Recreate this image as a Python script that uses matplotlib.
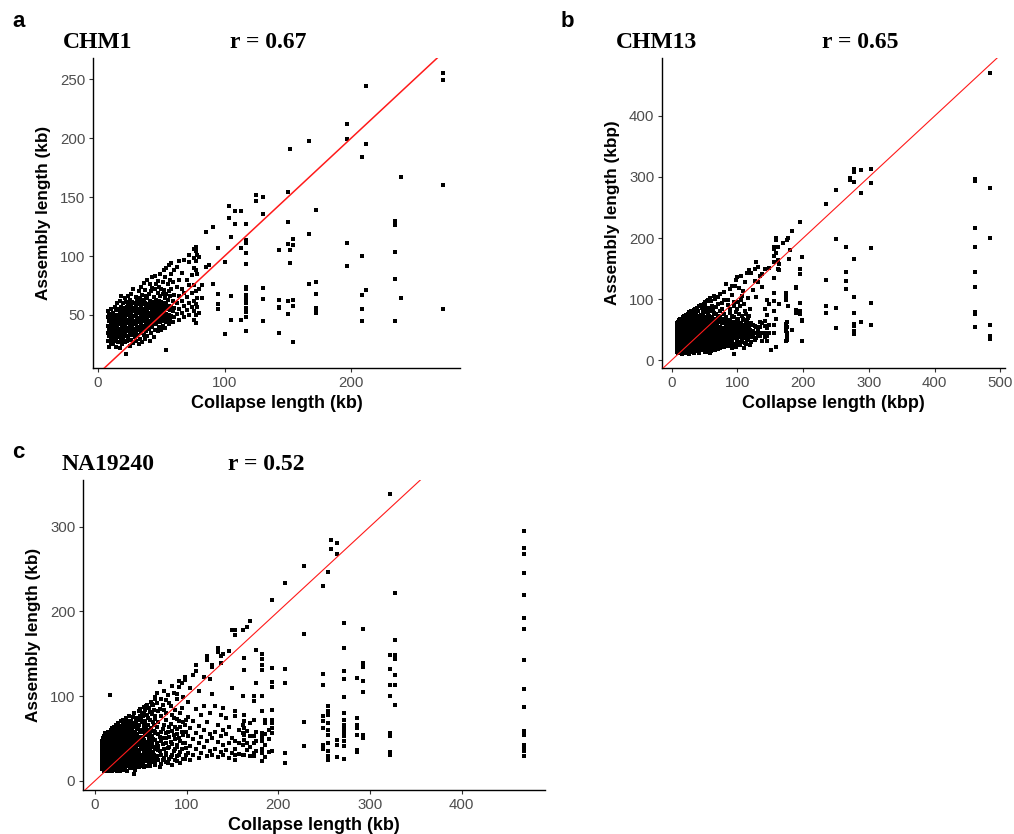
import matplotlib
matplotlib.use("Agg")
import matplotlib.pyplot as plt

# ---- panel a: CHM1 (x = collapse length, one list of assembly lengths per x) ----
a_cx = [8, 9, 10, 11, 12, 13, 14, 15, 16, 17, 18, 19, 20, 21, 22, 23, 24, 25, 26, 27,
        28, 29, 30, 31, 32, 33, 34, 35, 36, 37, 38, 39, 40, 41, 42, 43, 44, 45, 46, 47,
        48, 49, 50, 51, 52, 53, 54, 55, 56, 57, 58, 59, 60, 62, 64, 66, 68, 70, 72, 74,
        76, 77, 78, 80, 82, 85, 88,
        91, 94.5, 100.6, 103.8, 105.4, 108, 112.8, 116.8, 125, 130, 142.8, 149.7, 151.3,
        154.4, 167, 172.3, 196.6, 208.4, 211.6, 234.8, 239, 272.5]
a_cy = [[28, 35, 41, 48, 53], [23, 32, 38, 45, 50], [26, 31, 36, 42, 47, 55],
        [29, 34, 40, 44, 51], [25, 32, 38, 46, 52], [28, 35, 41, 49, 57],
        [23, 30, 37, 43, 54], [33, 39, 46, 50, 60], [27, 35, 42, 48, 55],
        [22, 31, 38, 45, 52, 62], [29, 36, 43, 50, 57, 66], [25, 33, 40, 47, 54],
        [30, 37, 44, 51, 60], [27, 35, 41, 48, 56, 64], [17, 32, 39, 46, 53, 61],
        [28, 36, 43, 50, 57], [31, 38, 45, 52, 59, 66], [24, 34, 41, 48, 55, 63],
        [29, 37, 44, 51, 58, 68], [33, 40, 47, 54, 61], [26, 35, 42, 49, 56, 72],
        [31, 38, 45, 53, 60], [28, 36, 43, 50, 57, 65], [33, 40, 47, 55, 62],
        [25, 37, 44, 52, 59, 70], [30, 39, 46, 53, 64], [35, 42, 49, 56, 61, 74],
        [27, 38, 45, 52, 59, 67], [33, 41, 48, 55, 63, 77], [30, 39, 46, 54, 60, 71],
        [36, 43, 51, 58, 66], [32, 40, 47, 55, 64, 80], [38, 45, 52, 59, 68],
        [28, 42, 49, 56, 62, 76], [35, 44, 51, 58, 70], [40, 47, 54, 61, 73, 82],
        [31, 43, 50, 57, 65], [37, 46, 53, 60, 72, 83], [42, 49, 56, 63, 76],
        [36, 45, 52, 59, 69, 79], [40, 48, 55, 62, 74], [44, 51, 58, 66, 85],
        [37, 47, 54, 61, 72], [41, 50, 57, 68, 78], [45, 53, 60, 71, 88],
        [39, 48, 56, 64, 82], [20, 44, 51, 59, 68, 90], [47, 55, 63, 76],
        [42, 50, 58, 70, 92], [46, 54, 66, 80], [49, 57, 72, 85, 94], [44, 53, 62, 78],
        [48, 56, 67, 88], [51, 60, 74, 91], [46, 55, 66, 80, 96], [52, 62, 72, 86],
        [48, 58, 69, 97], [54, 65, 80], [50, 60, 75, 95, 101], [57, 69, 84],
        [46, 53, 62, 75, 90, 98, 106], [43, 50, 59, 70, 88, 96, 104, 108],
        [57, 64, 85, 101], [52, 72, 99], [75, 64], [91, 120], [92],
        [125, 76.6], [107, 68, 59, 55], [95, 33.9], [142.6, 132], [116, 65.8, 45.8],
        [138, 127], [138, 107, 45.8],
        [127, 113.5, 111, 102.5, 93, 73.5, 71.8, 67, 63.3, 62, 59.9, 55.7, 52.8, 48.6, 36.7],
        [151.7, 146.4], [149.7, 136, 72.9, 63.6, 44.9], [105, 62.7, 57, 55.7, 34.5],
        [154, 128.5, 110, 61.9, 50.6], [191, 105, 94.3], [114.7, 109, 62.7, 57.9, 27.4],
        [198, 119, 76], [138.7, 78.2, 67.5, 55.7, 53.7, 51.4], [212.4, 199.7, 111, 91.8],
        [183.6, 100, 66.7, 55.4, 45.2], [244, 195, 71.2], [130, 126.5, 103.4, 80.5, 44.9],
        [167.2, 64.7], [255.3, 249.4, 160.4, 55.1]]

# ---- panel b: CHM13 ----
b_cx = [8, 9, 10, 11, 12, 13, 14, 15, 16, 17, 18, 19, 20, 21, 22, 23, 24, 25, 26, 27,
        28, 29, 30, 31, 32, 33, 34, 35, 36, 37, 38, 39, 40, 41, 42, 43, 44, 45, 46, 47,
        48, 49, 50, 52, 55, 58, 61, 64, 67, 70, 73, 76, 79, 82, 85, 88, 91, 94, 97, 100,
        103, 106, 109, 112, 115, 118, 120,
        124, 126, 128, 132, 135, 138, 142, 145, 148,
        151, 155, 159, 161, 163, 170, 174, 175, 176, 177, 178, 180, 182.5, 189.5, 194.4,
        198.5, 234.5, 250, 265, 271.6, 277.7, 287.8, 303, 462, 483.8,
        51, 53, 54, 56, 57, 59, 60, 62, 63, 65, 66, 68, 69, 71, 74, 77, 80, 83, 86, 89,
        92, 95, 98, 101, 104, 107, 110, 113, 116, 119]
b_cy = [[13, 18, 22, 27, 31, 36, 40, 45, 50, 55, 60], [15, 24, 29, 34, 38, 43, 48, 53, 58],
        [12, 17, 21, 26, 32, 37, 41, 46, 51, 56, 62], [14, 20, 25, 30, 35, 39, 44, 49, 54, 59, 65],
        [16, 22, 28, 33, 38, 42, 47, 52, 57, 63], [12, 19, 24, 29, 35, 40, 45, 50, 55, 61, 67],
        [15, 21, 27, 31, 37, 43, 48, 53, 58, 64], [10, 18, 23, 29, 34, 39, 44, 49, 56, 62, 68],
        [14, 20, 26, 32, 36, 41, 47, 52, 59, 65], [12, 17, 24, 30, 35, 40, 45, 51, 57, 63, 70],
        [15, 22, 28, 33, 38, 43, 49, 55, 61, 67], [13, 19, 25, 31, 37, 42, 47, 53, 58, 64, 72],
        [11, 17, 23, 29, 34, 39, 45, 50, 56, 62, 69], [15, 21, 27, 32, 38, 44, 48, 54, 60, 66, 74],
        [13, 19, 25, 30, 36, 41, 46, 52, 57, 63, 71], [16, 23, 28, 34, 39, 45, 51, 56, 61, 68],
        [12, 18, 24, 31, 37, 42, 47, 53, 59, 65, 76], [15, 21, 27, 33, 40, 44, 50, 55, 62, 70],
        [10, 19, 25, 30, 36, 41, 48, 54, 60, 67, 73], [14, 22, 28, 34, 39, 45, 51, 57, 63, 78],
        [17, 24, 31, 37, 43, 49, 55, 61, 72], [13, 20, 26, 33, 38, 44, 50, 56, 64],
        [16, 22, 29, 35, 41, 47, 53, 58, 66, 80], [19, 25, 31, 38, 45, 51, 57, 70],
        [14, 21, 27, 34, 40, 46, 52, 59, 67], [18, 24, 30, 36, 43, 49, 55, 77],
        [12, 22, 28, 33, 39, 45, 52, 58, 64, 82], [17, 25, 31, 37, 42, 48, 54, 68],
        [20, 27, 34, 40, 46, 51, 57, 73, 84], [15, 23, 29, 36, 43, 49, 55, 62, 78],
        [19, 26, 32, 38, 44, 50, 56, 66], [22, 28, 35, 41, 47, 53, 59, 86],
        [16, 24, 31, 37, 43, 49, 54, 67, 80], [20, 27, 33, 39, 45, 52, 58, 72],
        [11, 23, 30, 36, 42, 48, 55, 62, 88], [18, 26, 32, 38, 44, 50, 57, 70],
        [21, 28, 35, 41, 47, 53, 59, 74, 90], [16, 24, 30, 37, 43, 49, 56, 68],
        [19, 27, 33, 39, 46, 52, 58, 86], [23, 29, 36, 42, 48, 54, 60, 76],
        [17, 25, 31, 38, 44, 51, 63, 82], [21, 28, 34, 40, 47, 53, 66, 92],
        [14, 24, 30, 37, 43, 49, 55, 69, 95],
        [19, 30, 42, 52, 64, 84], [24, 36, 47, 58, 75, 98], [12, 28, 40, 54, 68, 102],
        [20, 33, 46, 60, 88], [25, 38, 50, 66, 105], [30, 43, 57, 76], [18, 35, 48, 62, 92],
        [27, 41, 55, 70, 108], [33, 46, 60, 84], [22, 38, 52, 67, 99], [29, 44, 58, 125],
        [35, 49, 66, 90], [25, 41, 55, 77, 117], [31, 46, 62, 106], [10, 38, 52, 70, 95],
        [27, 43, 58, 121], [33, 49, 64, 84, 136], [24, 40, 55, 76, 118],
        [30, 46, 61, 98, 137], [36, 52, 68, 113], [28, 43, 57, 80, 128], [33, 48, 63, 143],
        [39, 55, 72, 148], [30, 45, 61, 142],
        [38, 47, 58, 115], [33, 44, 56, 130, 150], [36, 45, 55, 103, 161],
        [42, 48, 128, 153], [39, 55, 62, 138], [31, 45, 60, 120, 141],
        [37, 44, 56, 64, 83, 150], [31, 40, 52, 74, 99], [45, 57, 92, 151],
        [17], [186, 181.7, 170.8, 161.5, 134, 110.7, 96, 79.7, 57.8, 44],
        [200, 196, 175, 67, 21], [186, 164.4, 149], [157.7, 146.8, 92], [191.8],
        [109.7, 104, 98.7, 59.5, 55, 47, 30.5], [63, 55, 44, 39, 33], [196], [200, 89],
        [165.3], [180.6], [211.7, 49.6], [119.5, 118, 82.6, 77],
        [226.5, 149, 141.3, 93.3, 79.7, 75.8], [169, 66.3, 64.4, 32],
        [256, 131.5, 87.8, 77], [278.8, 199, 84.6, 52.4], [185, 145, 130, 117],
        [299, 294.6], [313.8, 307.8, 292.5, 165, 104, 77, 59.5, 56, 48, 42.6],
        [311, 273.4, 61.7], [312.7, 290.9, 183, 92.7, 56.7],
        [296, 293.6, 217, 186, 143.5, 119.5, 78.6, 75.3, 53.5],
        [471, 282.7, 200.8, 56.8, 39.8, 34.4],
        [16, 26, 35, 45, 57, 71, 90], [22, 31, 38, 49, 61, 79], [14, 27, 44, 55, 68, 96],
        [20, 33, 42, 51, 63, 86], [17, 29, 37, 48, 59, 73], [23, 35, 45, 56, 80],
        [15, 30, 41, 51, 65, 97], [26, 37, 53, 71], [19, 34, 44, 58, 82],
        [22, 31, 41, 63, 77], [16, 36, 48, 54, 100], [27, 39, 51, 68, 87],
        [21, 33, 45, 59], [25, 38, 53, 73, 104], [19, 31, 49, 64, 81], [26, 39, 53, 94],
        [21, 34, 47, 61, 75, 112], [28, 40, 53, 70], [23, 36, 46, 60, 98],
        [30, 39, 51, 66, 84], [20, 34, 48, 57, 73, 122], [27, 42, 54, 63, 88],
        [22, 36, 47, 59, 78, 131], [29, 43, 52, 68, 95], [25, 37, 49, 60, 88],
        [31, 41, 54, 72, 105], [20, 36, 47, 58, 66, 92], [27, 39, 51, 62, 75],
        [33, 44, 56, 69, 101], [25, 38, 49, 61, 84]]

# ---- panel c: NA19240 ----
c_cx = [8, 9, 10, 11, 12, 13, 14, 15, 16, 17, 18, 19, 20, 21, 22, 23, 24, 25, 26, 27,
        28, 29, 30, 31, 32, 33, 34, 35, 36, 37, 38,
        39, 41, 43, 45, 47, 49, 51, 53, 55, 57, 59, 61, 63, 65, 68, 71, 74, 77, 80, 83,
        86, 89, 92, 95, 98, 101, 104, 107, 110, 113, 116, 119, 122, 125, 128, 131, 134,
        137, 140, 143, 146, 149,
        153, 157, 161, 163, 166, 169, 174, 176, 182, 186, 190, 193,
        206.8, 227.5, 249.3, 254.7, 257.8, 264, 271.9, 285.8, 292.9, 321.7, 327.6, 468,
        40, 42, 44, 46, 48, 50, 52, 54, 56, 58, 60, 62, 64, 66, 69, 72, 75, 78, 81, 84,
        87, 90, 93, 96, 99]
c_cy = [[14, 19, 23, 27, 31, 35, 39, 43, 47], [17, 21, 25, 29, 33, 37, 41, 45, 50],
        [12, 16, 20, 24, 28, 32, 36, 40, 44, 48, 53], [15, 19, 23, 27, 31, 35, 39, 43, 47, 51, 56],
        [13, 18, 22, 26, 30, 34, 38, 42, 46, 50], [16, 20, 24, 28, 32, 36, 40, 44, 49, 54],
        [11, 14, 19, 23, 27, 31, 35, 39, 43, 47, 52, 58], [17, 21, 25, 29, 33, 37, 41, 45, 51, 56],
        [13, 18, 22, 26, 30, 34, 38, 42, 48, 53, 101], [15, 20, 24, 28, 32, 36, 40, 46, 50, 55, 60],
        [12, 17, 21, 25, 29, 33, 37, 43, 47, 52, 58], [14, 19, 23, 27, 31, 35, 39, 44, 49, 54, 62],
        [16, 21, 25, 29, 34, 38, 42, 46, 51, 57], [13, 18, 22, 27, 32, 36, 40, 45, 50, 55, 64],
        [15, 20, 24, 29, 33, 37, 41, 47, 53, 59], [17, 22, 26, 30, 35, 39, 44, 48, 52, 61, 66],
        [12, 19, 24, 28, 32, 37, 42, 46, 50, 56], [16, 21, 25, 30, 34, 38, 43, 48, 54, 60, 68],
        [14, 18, 23, 27, 31, 36, 40, 45, 51, 57, 63], [11, 20, 25, 29, 33, 38, 42, 47, 53, 58],
        [17, 22, 27, 31, 35, 39, 44, 49, 55, 62, 70], [15, 19, 24, 28, 33, 37, 41, 46, 52, 59, 65],
        [13, 21, 26, 30, 35, 40, 45, 50, 56, 61], [18, 23, 28, 32, 37, 42, 48, 54, 60, 67, 72],
        [16, 20, 25, 29, 34, 39, 44, 49, 53, 63], [14, 22, 27, 31, 36, 41, 46, 51, 57, 64, 69],
        [19, 24, 29, 33, 38, 43, 48, 55, 61, 74], [12, 17, 26, 31, 35, 40, 45, 50, 58, 66],
        [21, 25, 30, 34, 39, 44, 49, 53, 62, 70], [18, 23, 28, 32, 37, 42, 47, 52, 59, 67, 76],
        [15, 20, 26, 31, 36, 41, 46, 51, 56, 63],
        [22, 33, 43, 54, 71], [20, 31, 42, 53, 68], [8, 25, 37, 46, 63, 80],
        [17, 29, 40, 53, 70], [23, 34, 46, 62, 72], [18, 31, 42, 57, 77, 85],
        [27, 39, 52, 69, 80], [16, 33, 45, 64, 87], [23, 37, 54, 71, 83],
        [30, 44, 60, 78, 90], [20, 36, 51, 86], [27, 42, 62, 93], [33, 49, 69, 89],
        [22, 38, 56, 77, 96], [29, 45, 64, 92, 104], [16, 35, 52, 85, 116],
        [24, 43, 61, 90], [31, 50, 72, 95], [21, 39, 58, 101], [28, 46, 67, 88],
        [35, 54, 74, 104], [23, 42, 61, 97], [30, 50, 70, 111, 118], [38, 57, 86, 115],
        [26, 45, 66, 119, 122], [33, 53, 75, 93], [24, 41, 62, 109], [30, 49, 70, 125],
        [37, 56, 85, 129, 137], [27, 44, 65, 106], [33, 52, 78], [40, 60, 88, 123],
        [29, 47, 69, 143, 147], [35, 55, 80, 120], [31, 50, 103, 134, 137], [38, 58, 88],
        [28, 46, 66, 152, 157], [34, 53, 78, 139, 147], [30, 42, 60, 86, 150],
        [36, 55, 74], [27, 44, 64, 153], [33, 51, 109, 178],
        [25, 31, 37, 47, 76, 82, 172, 178], [32, 44, 60], [30, 42, 56, 66, 100, 178],
        [31, 48, 54, 62, 70, 78, 131, 145], [36, 45, 59, 182], [29, 40, 53, 68, 188],
        [29, 33, 44, 53, 72, 94, 100], [35, 47, 58, 115, 154],
        [23, 33, 37, 47, 52, 56, 82, 100, 131, 137, 144, 150], [28, 42, 55, 68, 72],
        [34, 49, 60], [35, 56, 62, 68, 72, 84, 111, 116, 133, 213],
        [233.5, 132, 115.4, 32.7, 20.9], [253, 172.8, 69.7, 40.6],
        [230.3, 126.4, 113.4, 76, 70, 62, 42.5, 37.4],
        [246, 87.8, 82, 78, 68, 60, 54, 44.5, 34.6, 28.7, 24], [284.6, 273.6],
        [280.7, 268, 48.4, 42.5, 27.6],
        [186.6, 156.7, 129, 120, 98.8, 79.5, 72, 66, 62, 58, 52.4, 46.5, 40.6, 25.6],
        [121, 73.6, 66, 62, 54.3, 36.6, 34.3], [179.5, 139, 134, 118, 105, 54.3, 50.4],
        [338.6, 148, 131.9, 113, 100.4, 56.3, 53.1, 33.5, 30.7],
        [221.3, 165.7, 148, 144, 124.4, 113, 89.4],
        [294.9, 274.8, 268, 244.9, 218.9, 191.7, 179, 143, 108.7, 87.4, 58.3, 54.3,
         42.5, 38.6, 34.6, 29.5],
        [15, 27, 38, 48, 59, 66], [19, 30, 35, 44, 51, 58, 75], [13, 24, 32, 41, 49, 57, 67],
        [21, 28, 36, 44, 55, 61, 74], [16, 26, 35, 47, 52, 66, 82], [22, 30, 37, 45, 60, 73],
        [19, 28, 41, 49, 58, 76], [25, 31, 40, 48, 61, 67, 79], [18, 27, 35, 46, 57, 65, 88],
        [24, 32, 41, 55, 66, 74], [17, 29, 38, 47, 58, 72, 81], [22, 34, 44, 53, 79, 91],
        [26, 31, 40, 59, 66, 84], [19, 28, 48, 57, 73, 99], [24, 36, 41, 55, 69, 82],
        [20, 30, 47, 58, 76, 97], [27, 37, 51, 66, 83, 106], [22, 33, 45, 56, 80],
        [26, 40, 52, 63, 92], [19, 31, 43, 59, 78, 112], [25, 37, 49, 64, 84],
        [29, 40, 55, 73, 102], [21, 34, 47, 63, 80], [26, 44, 54, 69, 99], [31, 39, 58, 72]]

W, H = 1014, 834
SANS = "Liberation Sans"
SERIF = "Liberation Serif"


def flatten(cx, cy):
    xs = [x for x, ys in zip(cx, cy) for _ in ys]
    ys = [y for col in cy for y in col]
    return xs, ys


def panel(fig, rect_px, xlim, ylim, xticks, yticks, cx, cy, unit, line_w):
    left, top, right, bottom = rect_px
    ax = fig.add_axes([left / W, 1 - bottom / H, (right - left) / W, (bottom - top) / H])
    xs, ys = flatten(cx, cy)
    ax.scatter(xs, ys, s=5, marker="s", color="black", linewidths=0, zorder=2)
    ax.axline((0, 0), (1, 1), color="#ff1a1a", lw=line_w, zorder=3)
    ax.set_xlim(*xlim)
    ax.set_ylim(*ylim)
    ax.set_xticks(xticks)
    ax.set_yticks(yticks)
    for side in ["top", "right"]:
        ax.spines[side].set_visible(False)
    for side in ["left", "bottom"]:
        ax.spines[side].set_linewidth(1.0)
        ax.spines[side].set_color("black")
    ax.tick_params(direction="out", length=3, width=0.8, color="#333333",
                   labelcolor="#4d4d4d", labelsize=10.8, pad=2.5)
    for lab in ax.get_xticklabels() + ax.get_yticklabels():
        lab.set_fontfamily(SANS)
    ax.set_xlabel(f"Collapse length ({unit})", fontsize=13, fontweight="bold", family=SANS)
    ax.set_ylabel(f"Assembly length ({unit})", fontsize=12.3, fontweight="bold", family=SANS)
    ax.xaxis.set_label_coords(0.5, -27 / (bottom - top))
    ax.yaxis.set_label_coords(-42 / (right - left), 0.5)
    return ax


def title(fig, x, y, s, **kw):
    fig.text(x / W, 1 - y / H, s, va="baseline", ha="left", **kw)


fig = plt.figure(figsize=(W / 100, H / 100), dpi=100)

panel(fig, (93, 58, 460, 368), (-4, 286), (5, 268), [0, 100, 200],
      [50, 100, 150, 200, 250], a_cx, a_cy, "kb", 1.1)
panel(fig, (662, 58, 1005, 368), (-14.8, 507), (-13, 495), [0, 100, 200, 300, 400, 500],
      [0, 100, 200, 300, 400], b_cx, b_cy, "kbp", 0.8)
panel(fig, (83, 480, 545, 790), (-13.1, 491), (-10.9, 355), [0, 100, 200, 300, 400],
      [0, 100, 200, 300], c_cx, c_cy, "kb", 0.8)

ttl = dict(fontsize=17, fontweight="bold", family=SERIF)
title(fig, 63, 48, "CHM1", **ttl)
title(fig, 230, 48, "r = 0.67", **ttl)
title(fig, 616, 48, "CHM13", **ttl)
title(fig, 822, 48, "r = 0.65", **ttl)
title(fig, 62, 470, "NA19240", **ttl)
title(fig, 228, 470, "r = 0.52", **ttl)

let = dict(fontsize=16, fontweight="bold", family=SANS)
title(fig, 12, 27, "a", **let)
title(fig, 561, 27, "b", **let)
title(fig, 12, 458, "c", **let)

fig.savefig("out.png", dpi=100)
